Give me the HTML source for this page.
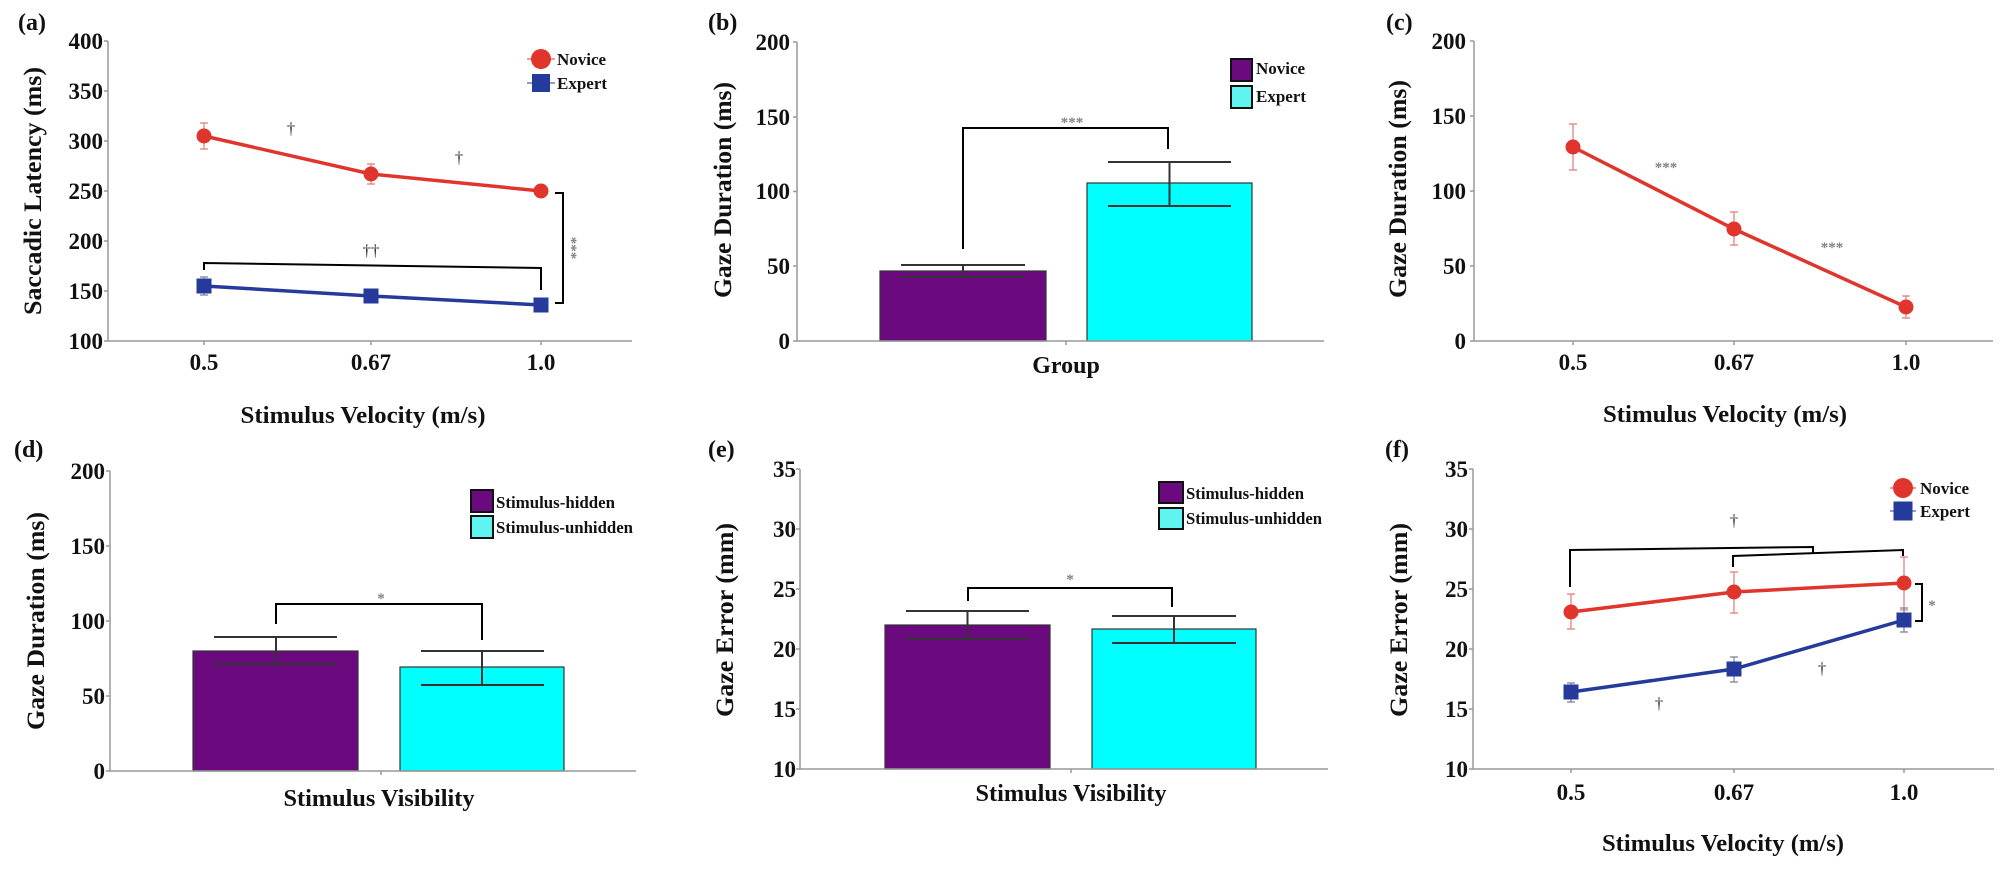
<!DOCTYPE html>
<html><head><meta charset="utf-8">
<style>
html,body{margin:0;padding:0;background:#fff;}
svg{display:block;}
.t{font-family:"Liberation Serif",serif;font-weight:bold;fill:#111;}
.tk{font-size:23px;}
.ti{font-size:25px;}
.xl{font-size:24px;}
.lg{font-size:17px;}
.pl{font-size:24px;}
.ast{font-family:"Liberation Serif",serif;font-size:15px;fill:#808080;font-weight:bold;}
.dg{font-family:"Liberation Serif",serif;font-size:17px;fill:#333;}
.ax{stroke:#999;stroke-width:1.5;fill:none;}
.br{stroke:#000;stroke-width:2;fill:none;}
.eb{stroke:#333;stroke-width:2;fill:none;}
.er{stroke:#e07a7a;stroke-width:1.2;fill:none;}
.eblu{stroke:#7a7f9a;stroke-width:1.2;fill:none;}
.rl{stroke:#e0352c;stroke-width:3.5;fill:none;}
.bl{stroke:#263a9c;stroke-width:3.5;fill:none;}
</style></head>
<body>
<svg width="2008" height="873" viewBox="0 0 2008 873" xmlns="http://www.w3.org/2000/svg">
<rect width="2008" height="873" fill="#fff"/>

<!-- ================= Panel (a) ================= -->
<text class="t pl" x="18" y="30">(a)</text>
<path class="ax" d="M108,41 V341 H632"/>
<path class="ax" d="M104,41H108M104,91H108M104,141H108M104,191H108M104,241H108M104,291H108M104,341H108"/>
<path class="ax" d="M204,341V345M371,341V345M541,341V345"/>
<g class="t tk" text-anchor="end">
<text x="103" y="49">400</text><text x="103" y="99">350</text><text x="103" y="149">300</text>
<text x="103" y="199">250</text><text x="103" y="249">200</text><text x="103" y="299">150</text><text x="103" y="349">100</text>
</g>
<g class="t tk" text-anchor="middle">
<text x="204" y="370">0.5</text><text x="371" y="370">0.67</text><text x="541" y="370">1.0</text>
</g>
<text class="t xl" x="363" y="423" text-anchor="middle" textLength="245" lengthAdjust="spacingAndGlyphs">Stimulus Velocity (m/s)</text>
<text class="t ti" transform="translate(41,191) rotate(-90)" text-anchor="middle" textLength="248" lengthAdjust="spacingAndGlyphs">Saccadic Latency (ms)</text>
<!-- error bars -->
<path class="er" d="M204,123V149M200,123H208M200,149H208M371,164V184M367,164H375M367,184H375M541,188V194"/>
<path class="eblu" d="M204,277V295M200,277H208M200,295H208M371,292V300M541,301V309"/>
<polyline class="rl" points="204,136 371,174 541,191"/>
<polyline class="bl" points="204,286 371,296 541,305"/>
<g fill="#e0352c"><circle cx="204" cy="136" r="7.5"/><circle cx="371" cy="174" r="7.5"/><circle cx="541" cy="191" r="7.5"/></g>
<g fill="#263a9c"><rect x="196.5" y="278.5" width="15" height="15"/><rect x="363.5" y="288.5" width="15" height="15"/><rect x="533.5" y="297.5" width="15" height="15"/></g>
<!-- brackets -->
<path class="br" d="M204,270 L204,263 L541,268 L541,290"/>
<path class="br" d="M555,193 H563 V303 H555"/>
<text class="ast" transform="translate(567,248) rotate(90)" text-anchor="middle">***</text>
<text class="dg" x="291" y="134" text-anchor="middle">†</text>
<text class="dg" x="459" y="163" text-anchor="middle">†</text>
<text class="dg" x="371" y="256" text-anchor="middle">††</text>
<!-- legend -->
<path stroke="#e0352c" stroke-width="1" d="M527,59H555"/>
<circle cx="541" cy="59" r="10" fill="#e0352c"/>
<path stroke="#263a9c" stroke-width="1" d="M527,83H555"/>
<rect x="532" y="74" width="18" height="18" fill="#263a9c"/>
<text class="t lg" x="557" y="65">Novice</text>
<text class="t lg" x="557" y="89">Expert</text>

<!-- ================= Panel (b) ================= -->
<text class="t pl" x="708" y="30">(b)</text>
<rect x="880" y="271" width="166" height="70" fill="#6a0a7e" stroke="#333" stroke-width="1.2"/>
<rect x="1087" y="183" width="165" height="158" fill="#00ffff" stroke="#333" stroke-width="1.2"/>
<path class="ax" d="M797,42 V341 H1324"/>
<path class="ax" d="M793,42H797M793,117H797M793,191.5H797M793,266H797M793,341H797M1066,341V345"/>
<g class="t tk" text-anchor="end">
<text x="790" y="50">200</text><text x="790" y="125">150</text><text x="790" y="199">100</text>
<text x="790" y="274">50</text><text x="790" y="349">0</text>
</g>
<text class="t xl" x="1066" y="373" text-anchor="middle">Group</text>
<text class="t ti" transform="translate(731,190) rotate(-90)" text-anchor="middle" textLength="216" lengthAdjust="spacingAndGlyphs">Gaze Duration (ms)</text>
<path class="eb" d="M963,265V277M901,265H1025M901,277H1025"/>
<path class="eb" d="M1169.5,162V206M1108,162H1231M1108,206H1231"/>
<path class="br" d="M963,249 V128 H1168 V149"/>
<text class="ast" x="1072" y="127" text-anchor="middle">***</text>
<rect x="1231" y="59" width="21" height="22" fill="#6a0a7e" stroke="#111" stroke-width="2"/>
<rect x="1231" y="86" width="21" height="22" fill="#5ff4f0" stroke="#111" stroke-width="2"/>
<text class="t lg" x="1256" y="74">Novice</text>
<text class="t lg" x="1256" y="102">Expert</text>

<!-- ================= Panel (c) ================= -->
<text class="t pl" x="1386" y="30">(c)</text>
<path class="ax" d="M1474,41 V341 H1993"/>
<path class="ax" d="M1470,41H1474M1470,116H1474M1470,191H1474M1470,266H1474M1470,341H1474M1573,341V345M1734,341V345M1906,341V345"/>
<g class="t tk" text-anchor="end">
<text x="1466" y="49">200</text><text x="1466" y="124">150</text><text x="1466" y="199">100</text>
<text x="1466" y="274">50</text><text x="1466" y="349">0</text>
</g>
<g class="t tk" text-anchor="middle">
<text x="1573" y="370">0.5</text><text x="1734" y="370">0.67</text><text x="1906" y="370">1.0</text>
</g>
<text class="t xl" x="1725" y="422" text-anchor="middle" textLength="244" lengthAdjust="spacingAndGlyphs">Stimulus Velocity (m/s)</text>
<text class="t ti" transform="translate(1406,189) rotate(-90)" text-anchor="middle" textLength="218" lengthAdjust="spacingAndGlyphs">Gaze Duration (ms)</text>
<path class="er" d="M1573,124V170M1569,124H1577M1569,170H1577M1734,212V245M1730,212H1738M1730,245H1738M1906,296V318M1902,296H1910M1902,318H1910"/>
<polyline class="rl" points="1573,147 1734,229 1906,307"/>
<g fill="#e0352c"><circle cx="1573" cy="147" r="7.5"/><circle cx="1734" cy="229" r="7.5"/><circle cx="1906" cy="307" r="7.5"/></g>
<text class="ast" x="1666" y="172" text-anchor="middle">***</text>
<text class="ast" x="1832" y="252" text-anchor="middle">***</text>

<!-- ================= Panel (d) ================= -->
<text class="t pl" x="14" y="457">(d)</text>
<rect x="193" y="651" width="165" height="120" fill="#6a0a7e" stroke="#333" stroke-width="1.2"/>
<rect x="400" y="667" width="164" height="104" fill="#00ffff" stroke="#333" stroke-width="1.2"/>
<path class="ax" d="M110,471 V771 H636"/>
<path class="ax" d="M106,471H110M106,546H110M106,621H110M106,696H110M106,771H110M381,771V775"/>
<g class="t tk" text-anchor="end">
<text x="105" y="479">200</text><text x="105" y="554">150</text><text x="105" y="629">100</text>
<text x="105" y="704">50</text><text x="105" y="779">0</text>
</g>
<text class="t xl" x="379" y="806" text-anchor="middle" textLength="191" lengthAdjust="spacingAndGlyphs">Stimulus Visibility</text>
<text class="t ti" transform="translate(44,621) rotate(-90)" text-anchor="middle" textLength="218" lengthAdjust="spacingAndGlyphs">Gaze Duration (ms)</text>
<path class="eb" d="M276,637V664M214,637H337M214,664H337"/>
<path class="eb" d="M482,651V685M421,651H544M421,685H544"/>
<path class="br" d="M276,624 V604 H482 V640"/>
<text class="ast" x="381" y="603" text-anchor="middle">*</text>
<rect x="471" y="490" width="22" height="22" fill="#6a0a7e" stroke="#111" stroke-width="2"/>
<rect x="471" y="516" width="22" height="22" fill="#5ff4f0" stroke="#111" stroke-width="2"/>
<text class="t lg" x="496" y="508" textLength="119" lengthAdjust="spacingAndGlyphs">Stimulus-hidden</text>
<text class="t lg" x="496" y="533" textLength="137" lengthAdjust="spacingAndGlyphs">Stimulus-unhidden</text>

<!-- ================= Panel (e) ================= -->
<text class="t pl" x="708" y="457">(e)</text>
<rect x="885" y="625" width="165" height="144" fill="#6a0a7e" stroke="#333" stroke-width="1.2"/>
<rect x="1092" y="629" width="164" height="140" fill="#00ffff" stroke="#333" stroke-width="1.2"/>
<path class="ax" d="M800,469 V769 H1328"/>
<path class="ax" d="M796,469H800M796,529H800M796,589H800M796,649H800M796,709H800M796,769H800M1071,769V773"/>
<g class="t tk" text-anchor="end">
<text x="796" y="477">35</text><text x="796" y="537">30</text><text x="796" y="597">25</text>
<text x="796" y="657">20</text><text x="796" y="717">15</text><text x="796" y="777">10</text>
</g>
<text class="t xl" x="1071" y="801" text-anchor="middle" textLength="191" lengthAdjust="spacingAndGlyphs">Stimulus Visibility</text>
<text class="t ti" transform="translate(733,620) rotate(-90)" text-anchor="middle" textLength="194" lengthAdjust="spacingAndGlyphs">Gaze Error (mm)</text>
<path class="eb" d="M967.5,611V639M906,611H1029M906,639H1029"/>
<path class="eb" d="M1174,616V643M1112,616H1236M1112,643H1236"/>
<path class="br" d="M968,601 V588 H1172 V607"/>
<text class="ast" x="1070" y="584" text-anchor="middle">*</text>
<rect x="1159" y="482" width="24" height="21" fill="#6a0a7e" stroke="#111" stroke-width="2"/>
<rect x="1159" y="508" width="24" height="21" fill="#5ff4f0" stroke="#111" stroke-width="2"/>
<text class="t lg" x="1186" y="499" textLength="118" lengthAdjust="spacingAndGlyphs">Stimulus-hidden</text>
<text class="t lg" x="1186" y="524" textLength="136" lengthAdjust="spacingAndGlyphs">Stimulus-unhidden</text>

<!-- ================= Panel (f) ================= -->
<text class="t pl" x="1385" y="457">(f)</text>
<path class="ax" d="M1473,469 V769 H1994"/>
<path class="ax" d="M1469,469H1473M1469,529H1473M1469,589H1473M1469,649H1473M1469,709H1473M1469,769H1473M1571,769V773M1734,769V773M1904,769V773"/>
<g class="t tk" text-anchor="end">
<text x="1468" y="477">35</text><text x="1468" y="537">30</text><text x="1468" y="597">25</text>
<text x="1468" y="657">20</text><text x="1468" y="717">15</text><text x="1468" y="777">10</text>
</g>
<g class="t tk" text-anchor="middle">
<text x="1571" y="800">0.5</text><text x="1734" y="800">0.67</text><text x="1904" y="800">1.0</text>
</g>
<text class="t xl" x="1723" y="851" text-anchor="middle" textLength="242" lengthAdjust="spacingAndGlyphs">Stimulus Velocity (m/s)</text>
<text class="t ti" transform="translate(1407,620) rotate(-90)" text-anchor="middle" textLength="194" lengthAdjust="spacingAndGlyphs">Gaze Error (mm)</text>
<path class="er" d="M1571,594V629M1567,594H1575M1567,629H1575M1734,572V613M1730,572H1738M1730,613H1738M1904,557V610M1900,557H1908M1900,610H1908"/>
<path class="eblu" d="M1571,683V702M1567,683H1575M1567,702H1575M1734,657V682M1730,657H1738M1730,682H1738M1904,608V632M1900,608H1908M1900,632H1908"/>
<polyline class="rl" points="1571,612 1734,592 1904,583"/>
<polyline class="bl" points="1571,692 1734,669 1904,620"/>
<g fill="#e0352c"><circle cx="1571" cy="612" r="7.5"/><circle cx="1734" cy="592" r="7.5"/><circle cx="1904" cy="583" r="7.5"/></g>
<g fill="#263a9c"><rect x="1563.5" y="684.5" width="15" height="15"/><rect x="1726.5" y="661.5" width="15" height="15"/><rect x="1896.5" y="612.5" width="15" height="15"/></g>
<path class="br" d="M1570,587 V550 L1813,547 V553"/>
<path class="br" d="M1733,567 V556 L1903,550 V556"/>
<path class="br" d="M1915,584 H1922 V621 H1915"/>
<text class="ast" x="1932" y="610" text-anchor="middle">*</text>
<text class="dg" x="1734" y="526" text-anchor="middle">†</text>
<text class="dg" x="1659" y="709" text-anchor="middle">†</text>
<text class="dg" x="1822" y="674" text-anchor="middle">†</text>
<path stroke="#e0352c" stroke-width="1" d="M1890,488H1916"/>
<circle cx="1903" cy="488" r="10" fill="#e0352c"/>
<path stroke="#263a9c" stroke-width="1" d="M1890,511H1916"/>
<rect x="1893.5" y="501.5" width="19" height="19" fill="#263a9c"/>
<text class="t lg" x="1920" y="494">Novice</text>
<text class="t lg" x="1920" y="517">Expert</text>
</svg>
</body></html>
